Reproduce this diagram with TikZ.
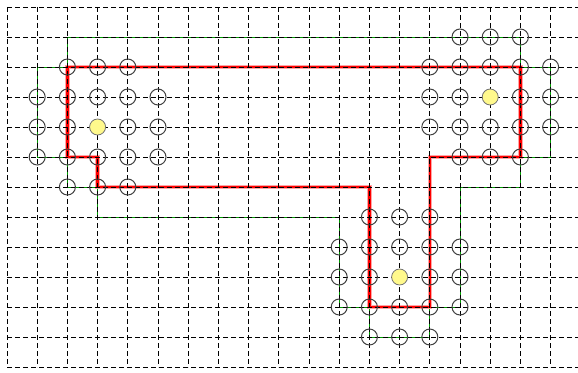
\documentclass[tikz,border=0pt]{standalone}
\usepackage{tikz}
\usepackage{xcolor}

\tikzset{
  gridline/.style={dash pattern=on 5pt off 3pt, line width=0.8pt},
  hull/.style={green!60!black, line width=0.8pt},
  halo/.style={red!35, line width=4.6pt, line join=miter},
  route/.style={red, line width=2.4pt, line join=miter},
  site/.style={circle, draw=black!75, line width=1pt, minimum size=16pt, inner sep=0pt},
  source/.style={circle, draw=black!55, fill=yellow!45, line width=0.8pt, minimum size=16pt, inner sep=0pt}
}

\begin{document}
\begin{tikzpicture}[x={(30.2pt,0pt)}, y={(0pt,-30pt)}]
  \useasboundingbox (-0.2318,-0.2333) rectangle (18.907,12.167);

  % Outer boundary
  \draw[hull] (2,1) -- (17,1) -- (17,2) -- (18,2) -- (18,5) -- (17,5) -- (17,6)
    -- (15,6) -- (15,10) -- (14,10) -- (14,11) -- (12,11) -- (12,10) -- (11,10)
    -- (11,7) -- (3,7) -- (3,6) -- (2,6) -- (2,5) -- (1,5) -- (1,2) -- (2,2) -- cycle;

  % Route
  \foreach \look in {halo, route}
    \draw[\look] (2,2) -- (17,2) -- (17,5) -- (14,5) -- (14,10) -- (12,10)
      -- (12,6) -- (3,6) -- (3,5) -- (2,5) -- cycle;

  % Grid
  \foreach \i in {0,...,18}
    \draw[gridline] (\i,0) -- (\i,12);
  \foreach \j in {0,...,12}
    \draw[gridline] (0,\j) -- (18.907,\j);

  % Clusters of sites
  \foreach \cx/\cy/\tag in {3/4/west, 16/3/east, 13/9/south} {
    \foreach \dx in {-2,...,2} {
      \foreach \dy in {-1,0,1} {
        \pgfmathtruncatemacro{\px}{\cx+\dx}
        \pgfmathtruncatemacro{\py}{\cy+\dy}
        \ifnum\dx=0 \ifnum\dy=0 \else
          \node[site] (\tag-\px-\py) at (\px,\py) {};
        \fi \else
          \node[site] (\tag-\px-\py) at (\px,\py) {};
        \fi
      }
    }
    \foreach \dx in {-1,0,1} {
      \foreach \dy in {-2,2} {
        \pgfmathtruncatemacro{\px}{\cx+\dx}
        \pgfmathtruncatemacro{\py}{\cy+\dy}
        \node[site] (\tag-\px-\py) at (\px,\py) {};
      }
    }
    % Source
    \node[source] (\tag-src) at (\cx,\cy) {};
  }
\end{tikzpicture}
\end{document}
